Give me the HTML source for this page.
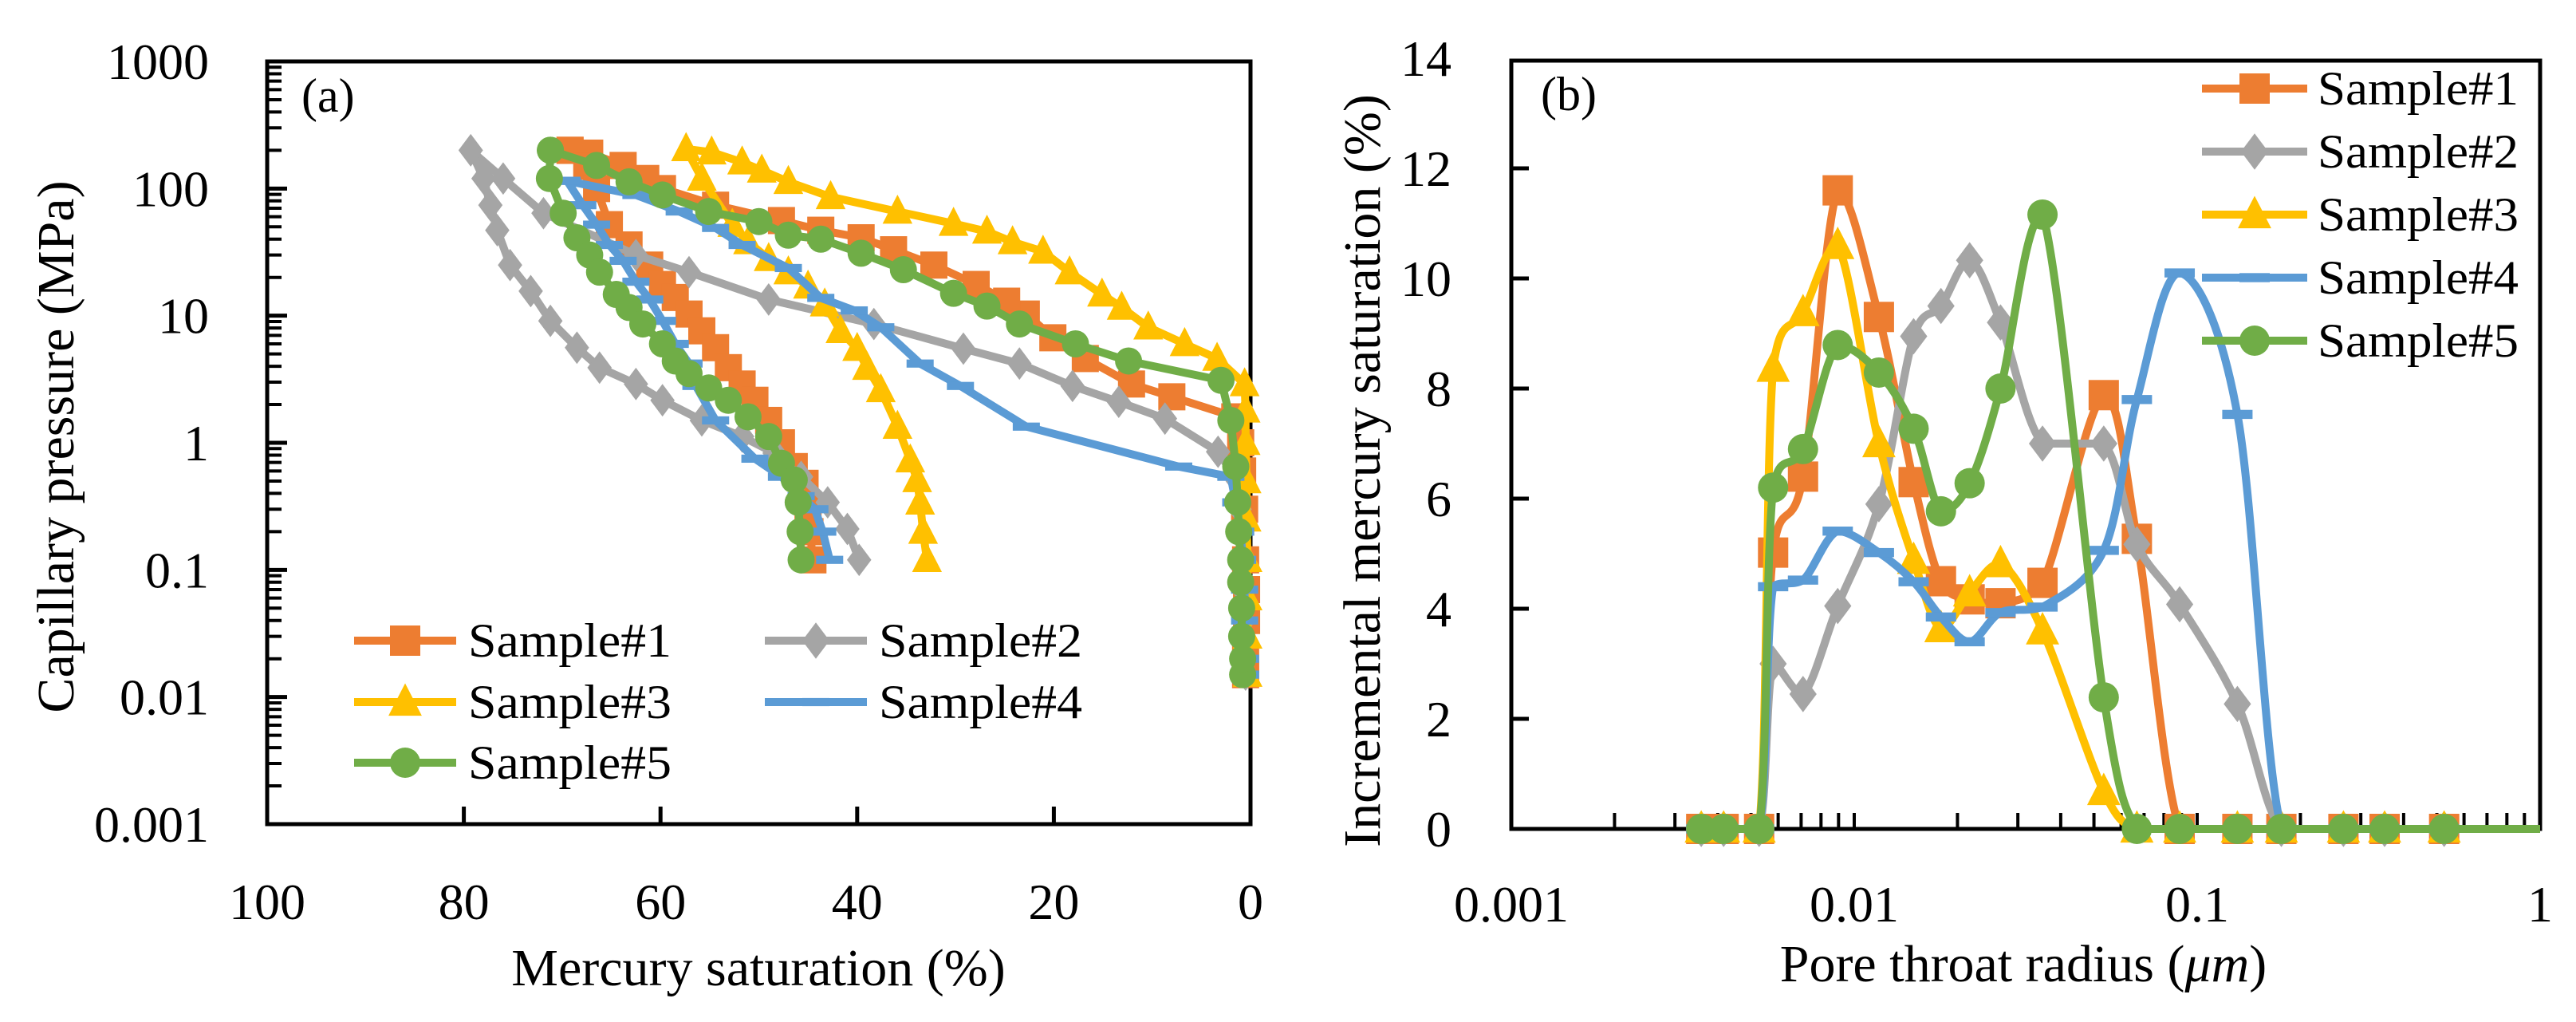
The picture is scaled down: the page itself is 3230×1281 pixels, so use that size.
<!DOCTYPE html>
<html><head><meta charset="utf-8"><style>
html,body{margin:0;padding:0;background:#fff;}
svg{display:block;font-family:"Liberation Serif",serif;}
</style></head><body>
<svg id="fig" width="3230" height="1281" viewBox="0 0 3230 1281" xmlns="http://www.w3.org/2000/svg">
<rect width="3230" height="1281" fill="#fff"/>
<g id="pa"></g>
<g id="pb"></g>
</svg>
<script>
// ---------- Panel (a) data: [saturation %, pressure MPa] ----------
const aNames = ["Sample#1","Sample#2","Sample#3","Sample#4","Sample#5"];
const a1Intr = [[0.5,0.015],[0.5,0.02],[0.4,0.04],[0.4,0.07],[0.5,0.12],[0.6,0.3],[0.8,0.6],[1.0,1.0],[1.6,1.6],[8.0,2.3],[12.1,2.9],[16.8,4.6],[20.1,6.7],[22.8,10.3],[24.8,13],[27.9,17.6],[32.2,25],[36.3,33],[39.6,41],[43.7,47],[47.7,56],[54.4,74],[59.8,100],[61.5,120],[63.8,152],[67.2,190],[69.2,200]];
const a1Extr = [[69.2,200],[67.5,150],[66.5,100],[65.2,52],[63.2,36],[61.1,25],[59.8,17.6],[58.5,13.9],[57.1,10.3],[55.8,7.6],[54.4,5.6],[53.1,3.9],[51.7,2.9],[50.4,2.16],[49,1.5],[47.7,1.0],[46.4,0.65],[45.3,0.48],[45,0.3],[44.8,0.2],[44.5,0.12]];
const a2Intr = [[0.5,0.015],[0.6,0.02],[0.7,0.04],[0.8,0.07],[0.9,0.12],[1.0,0.2],[1.1,0.3],[1.3,0.5],[3.3,0.85],[8.7,1.55],[13.4,2.1],[18.1,2.8],[23.5,4.2],[29.2,5.5],[38.3,8.6],[49,13.4],[57.1,22],[62.5,30],[71.9,64],[76,120],[79.3,200]];
const a2Extr = [[79.3,200],[78,120],[77.3,74],[76.6,47],[75.3,25],[73.2,15.6],[71.2,9.1],[68.5,5.6],[66.2,3.9],[62.5,2.9],[59.8,2.16],[55.8,1.5],[51.7,1.12],[48.4,0.83],[45.7,0.54],[43,0.34],[41,0.21],[39.8,0.12]];
const a3Intr = [[0.3,0.015],[0.3,0.03],[0.3,0.06],[0.3,0.12],[0.4,0.25],[0.4,0.5],[0.5,1],[0.5,1.8],[0.6,2.9],[3.4,4.6],[6.7,6.0],[10.4,8.1],[13.1,11.6],[15.1,14.7],[18.4,22],[21.1,32],[24.2,38],[26.8,46],[30.2,53],[35.9,66],[42.7,86],[47,113],[49.7,139],[51.7,161],[54.8,193],[57.4,205]];
const a3Extr = [[57.4,205],[55.8,120],[52.7,52],[51.1,38],[49.0,28],[47.0,22],[45.0,17],[43.3,12.3],[41.7,7.6],[40.0,5.5],[39.0,3.9],[37.6,2.6],[35.9,1.34],[34.6,0.73],[33.9,0.51],[33.6,0.34],[33.3,0.2],[32.9,0.12]];
const a4Intr = [[0.5,0.015],[0.5,0.02],[0.6,0.04],[0.6,0.07],[0.8,0.12],[1.0,0.2],[1.5,0.34],[2.0,0.54],[7.3,0.65],[22.8,1.34],[29.5,2.8],[33.6,4.2],[37.6,8.1],[40.3,11],[43.7,13.8],[47,23.7],[51.7,36],[54.4,49],[58.1,66],[62.5,89],[69.5,115]];
const a4Extr = [[69.5,115],[67.9,74],[66.5,52],[65.2,36],[63.8,27],[62.5,18.5],[61.1,13.4],[59.8,9.1],[58.5,6.0],[57.1,4.2],[56.4,2.8],[54.4,1.5],[50.4,0.75],[47.7,0.54],[45.7,0.38],[44.3,0.3],[43.5,0.2],[42.8,0.12]];
const a5Intr = [[0.8,0.015],[0.8,0.02],[0.9,0.03],[0.9,0.05],[1.0,0.08],[1.0,0.12],[1.2,0.2],[1.3,0.34],[1.5,0.65],[2.0,1.5],[3.0,3.1],[12.4,4.4],[17.8,6.0],[23.5,8.6],[26.8,11.9],[30.2,15],[35.3,23],[39.6,31],[43.7,40],[47,43],[50,55],[55.1,66],[59.8,89],[63.2,113],[66.5,152],[71.2,200]];
const a5Extr = [[71.2,200],[71.3,120],[69.9,64],[68.5,41],[67.2,30],[66.2,22],[64.5,14.7],[63.2,11.6],[61.8,8.6],[59.8,6.0],[58.5,4.4],[57.1,3.5],[55.1,2.7],[53.1,2.16],[51.1,1.6],[49,1.12],[47.7,0.69],[46.4,0.51],[46,0.34],[45.8,0.2],[45.7,0.12]];
const aXTicks = [100,80,60,40,20,0];
const aYTicks = ["0.001","0.01","0.1","1","10","100","1000"];

// ---------- Panel (b) data ----------
const bRadius = [0.00358,0.00416,0.00528,0.0058,0.00709,0.00895,0.0118,0.0149,0.0179,0.0217,0.0267,0.0354,0.0534,0.0667,0.0889,0.131,0.176,0.267,0.352,0.525,1.0];
const b1 = [0,0,0,5.02,6.4,11.6,9.3,6.3,4.5,4.17,4.1,4.47,7.88,5.27,0,0,0,0,0,0,0];
const b2 = [0,0,0,3.0,2.45,4.05,5.9,8.95,9.5,10.33,9.2,7.0,7.0,5.17,4.08,2.27,0,0,0,0,0];
const b3 = [0,0,0,8.37,9.38,10.6,7.0,4.88,3.64,4.29,4.82,3.6,0.68,0,0,0,0,0,0,0,0];
const b4 = [0,0,0,4.4,4.52,5.41,5.02,4.49,3.85,3.4,3.93,4.03,5.06,7.8,10.1,7.53,0,0,0,0,0];
const b5 = [0,0,0,6.2,6.9,8.79,8.29,7.27,5.77,6.28,8.0,11.16,2.39,0,0,0,0,0,0,0,0];
const bYTicks = [0,2,4,6,8,10,12,14];
const bXTicks = ["0.001","0.01","0.1","1"];

const colors = ["#ED7D31","#A5A5A5","#FFC000","#5B9BD5","#70AD47"];
const markers = ["square","diamond","triangle","dash","circle"];
const NS = "http://www.w3.org/2000/svg";
function mk(parent, tag, attrs){ const e=document.createElementNS(NS,tag); for(const k in attrs) e.setAttribute(k,attrs[k]); parent.appendChild(e); return e; }
function marker(g, type, x, y, s, col){
  let e;
  if(type==="square") e=mk(g,"rect",{x:x-s/2,y:y-s/2,width:s,height:s,fill:col});
  else if(type==="diamond") e=mk(g,"polygon",{points:`${x},${y-s*0.6} ${x+s*0.45},${y} ${x},${y+s*0.6} ${x-s*0.45},${y}`,fill:col});
  else if(type==="triangle") e=mk(g,"polygon",{points:`${x},${y-s*0.62} ${x+s*0.55},${y+s*0.45} ${x-s*0.55},${y+s*0.45}`,fill:col});
  else if(type==="dash") e=mk(g,"rect",{x:x-s*0.5,y:y-s*0.15,width:s,height:s*0.3,fill:col});
  else e=mk(g,"circle",{cx:x,cy:y,r:s/2,fill:col});
  return e;
}

// ---------- Panel (a) ----------
const pa=document.getElementById("pa");
const aL=335,aR=1568,aT=77,aB=1033;
const ax = v => aL + (100-v)/100*(aR-aL);
const ay = p => aB - (Math.log10(p)+3)/6*(aB-aT);
{
  for(let d=0; d<6; d++){
    for(let m=2;m<=9;m++){
      const yy=ay(Math.pow(10,d-3)*m);
      const t=mk(pa,"line",{x1:aL,x2:aL+18,y1:yy,y2:yy,stroke:"#000","stroke-width":4});
      
      
    }
  }
  aYTicks.forEach(lbl=>{
    const yy=ay(parseFloat(lbl));
    const t=mk(pa,"line",{x1:aL,x2:aL+25,y1:yy,y2:yy,stroke:"#000","stroke-width":5});
    
    
    const tx=mk(pa,"text",{x:262,y:yy+22,"font-size":64,"text-anchor":"end",fill:"#000"});
    tx.textContent=lbl;
    
    
  });
  aXTicks.forEach(v=>{
    const xx=ax(v);
    if(v!==100 && v!==0){
      const t=mk(pa,"line",{x1:xx,x2:xx,y1:aB,y2:aB-22,stroke:"#000","stroke-width":5});
      
      
    }
    const tx=mk(pa,"text",{x:xx,y:1152,"font-size":64,"text-anchor":"middle",fill:"#000"});
    tx.textContent=String(v);
    
    
  });
  const fr=mk(pa,"rect",{x:aL,y:aT,width:aR-aL,height:aB-aT,fill:"none",stroke:"#000","stroke-width":5});
  
  

  const series=[[a1Intr,a1Extr],[a2Intr,a2Extr],[a3Intr,a3Extr],[a4Intr,a4Extr],[a5Intr,a5Extr]];
  series.forEach((br,i)=>{
    const g=mk(pa,"g",{});
    
    
    br.forEach((pts,j)=>{
      const d=pts.map((p,k)=>(k?"L":"M")+ax(p[0]).toFixed(1)+","+ay(p[1]).toFixed(1)).join(" ");
      const l=mk(g,"path",{d:d,fill:"none",stroke:colors[i],"stroke-width":10,"stroke-linejoin":"round"});
      
      
      pts.forEach(p=>{
        const m=marker(g,markers[i],ax(p[0]),ay(p[1]),i===3?34:34,colors[i]);
        
        
      });
    });
  });
  const lab=mk(pa,"text",{x:378,y:140,"font-size":60,fill:"#000"});
  lab.textContent="(a)";
  
  
  const lg=mk(pa,"g",{});
  
  
  const pos=[[444,803],[959,803],[444,880],[959,880],[444,956]];
  aNames.forEach((n,i)=>{
    const [x0,y0]=pos[i];
    const e=mk(lg,"g",{});
    
    
    mk(e,"line",{x1:x0,x2:x0+128,y1:y0,y2:y0,stroke:colors[i],"stroke-width":10});
    marker(e,markers[i],x0+64,y0,i===3?34:38,colors[i]);
    const t=mk(e,"text",{x:x0+143,y:y0+20,"font-size":60,fill:"#000",textLength:255,lengthAdjust:"spacingAndGlyphs"});
    t.textContent=n;
  });
  const yt=mk(pa,"text",{x:0,y:0,"font-size":66,"text-anchor":"middle",fill:"#000",transform:"translate(92,560) rotate(-90)"});
  yt.textContent="Capillary pressure (MPa)";
  
  
  const xt=mk(pa,"text",{x:951,y:1235,"font-size":66,"text-anchor":"middle",fill:"#000"});
  xt.textContent="Mercury saturation (%)";
  
  
}

// ---------- Panel (b) ----------
const pb=document.getElementById("pb");
const bL=1895,bR=3185,bT=73,bB=1039;
const bx = r => bL + (Math.log10(r)+3)/3*(bR-bL);
const by = v => bB - v/14*(bB-bT);
function clamp(v,a,b){const lo=Math.min(a,b),hi=Math.max(a,b);return Math.max(lo,Math.min(hi,v));}
function smoothPath(P){
  let d="M"+P[0][0].toFixed(1)+","+P[0][1].toFixed(1);
  for(let i=0;i<P.length-1;i++){
    const p0=P[Math.max(0,i-1)],p1=P[i],p2=P[i+1],p3=P[Math.min(P.length-1,i+2)];
    const t=1/6;
    const c1=[p1[0]+(p2[0]-p0[0])*t,clamp(p1[1]+(p2[1]-p0[1])*t,p1[1],p2[1])];
    const c2=[p2[0]-(p3[0]-p1[0])*t,clamp(p2[1]-(p3[1]-p1[1])*t,p1[1],p2[1])];
    d+=` C${c1[0].toFixed(1)},${c1[1].toFixed(1)} ${c2[0].toFixed(1)},${c2[1].toFixed(1)} ${p2[0].toFixed(1)},${p2[1].toFixed(1)}`;
  }
  return d;
}
{
  bYTicks.forEach(v=>{
    const yy=by(v);
    if(v>0 && v<14){
      const t=mk(pb,"line",{x1:bL,x2:bL+22,y1:yy,y2:yy,stroke:"#000","stroke-width":5});
      
      
    }
    const tx=mk(pb,"text",{x:1820,y:yy+22,"font-size":64,"text-anchor":"end",fill:"#000"});
    tx.textContent=String(v);
    
    
  });
  for(let d=0; d<3; d++){
    for(let m=2;m<=10;m++){
      const xx=bx(Math.pow(10,d-3)*m);
      if(xx>=bR-2) continue;
      const t=mk(pb,"line",{x1:xx,x2:xx,y1:bB,y2:bB-20,stroke:"#000","stroke-width":4});
      
      
    }
  }
  bXTicks.forEach(lbl=>{
    const tx=mk(pb,"text",{x:bx(parseFloat(lbl)),y:1155,"font-size":64,"text-anchor":"middle",fill:"#000"});
    tx.textContent=lbl;
    
    
  });
  const fr=mk(pb,"rect",{x:bL,y:bT+3,width:bR-bL,height:bB-bT-3,fill:"none",stroke:"#000","stroke-width":5});
  
  

  const series=[b1,b2,b3,b4,b5];
  series.forEach((vals,i)=>{
    const g=mk(pb,"g",{});
    
    
    const P=vals.map((v,k)=>[bx(bRadius[k]),by(v)]);
    const l=mk(g,"path",{d:smoothPath(P),fill:"none",stroke:colors[i],"stroke-width":10,"stroke-linejoin":"round"});
    
    
    vals.forEach((v,k)=>{
      if(k===vals.length-1) return;
      const m=marker(g,markers[i],bx(bRadius[k]),by(v),i===3?38:38,colors[i]);
      
      
    });
  });
  const lab=mk(pb,"text",{x:1932,y:138,"font-size":60,fill:"#000"});
  lab.textContent="(b)";
  
  
  const lg=mk(pb,"g",{});
  
  
  aNames.forEach((n,i)=>{
    const y0=111+i*79;
    const e=mk(lg,"g",{});
    
    
    mk(e,"line",{x1:2761,x2:2893,y1:y0,y2:y0,stroke:colors[i],"stroke-width":10});
    marker(e,markers[i],2827,y0,38,colors[i]);
    const t=mk(e,"text",{x:2906,y:y0+20,"font-size":60,fill:"#000",textLength:252,lengthAdjust:"spacingAndGlyphs"});
    t.textContent=n;
  });
  const yt=mk(pb,"text",{x:0,y:0,"font-size":66,"text-anchor":"middle",fill:"#000",transform:"translate(1730,590) rotate(-90)"});
  yt.textContent="Incremental mercury saturation (%)";
  
  
  const xt=mk(pb,"text",{x:2537,y:1230,"font-size":66,"text-anchor":"middle",fill:"#000"});
  xt.innerHTML='Pore throat radius (<tspan font-style="italic">μm</tspan>)';
  
  
}
</script>
</body></html>
